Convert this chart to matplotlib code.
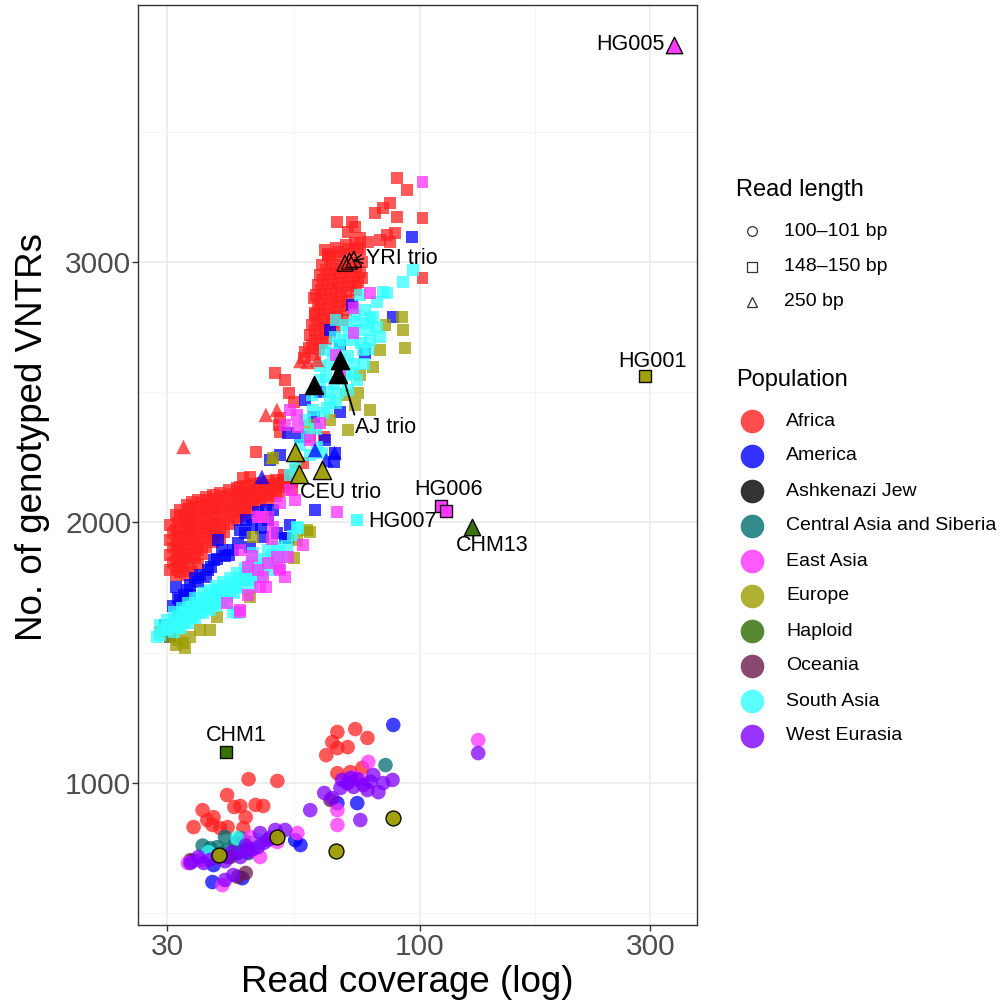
import matplotlib
matplotlib.use("Agg")
import matplotlib.pyplot as plt
from matplotlib.lines import Line2D

plt.rcParams['font.family'] = ['Liberation Sans', 'DejaVu Sans']

# population names / colours (legend order)
pop_names = ["Africa", "America", "Ashkenazi Jew", "Central Asia and Siberia", "East Asia",
             "Europe", "Haploid", "Oceania", "South Asia", "West Eurasia"]
pop_colors = ["#FF2020", "#0000FF", "#000000", "#006E6E", "#FF30FF",
              "#9C9C00", "#2D6A00", "#6B1A4B", "#33FFFF", "#8000FF"]
col = dict(zip(pop_names, pop_colors))

read_len_labels = ["100\u2013101 bp", "148\u2013150 bp", "250 bp"]

# ---------------- 148-150 bp samples (squares): (coverage, no. of VNTRs)
africa_sq = [
    (30.4, 1990), (30.4, 1933), (30.4, 1875), (30.4, 1818),
    (31.2, 2029), (31.2, 1971), (31.2, 1914), (31.2, 1856), (31.2, 1798),
    (31.9, 2048), (31.9, 2002), (31.9, 1952), (31.9, 1902), (31.9, 1856), (31.9, 1810),
    (32.9, 2067), (32.9, 2017), (32.9, 1971), (32.9, 1914), (32.9, 1864), (32.9, 1800),
    (33.8, 2079), (33.8, 2029), (33.8, 1979), (33.8, 1933), (33.8, 1875), (33.8, 1815),
    (34.8, 2086), (34.8, 2040), (34.8, 1990), (34.8, 1941), (34.8, 1894), (34.8, 1840),
    (36.0, 2098), (36.0, 2056), (36.0, 2010), (36.0, 1960), (36.0, 1905),
    (37.3, 2106), (37.3, 2063), (37.3, 2017), (37.3, 1971), (37.3, 1925),
    (38.6, 2113), (38.6, 2071), (38.6, 2029), (38.6, 1983), (38.6, 1941),
    (40.2, 2125), (40.2, 2086), (40.2, 2040), (40.2, 1994),
    (41.8, 2133), (41.8, 2094), (41.8, 2048), (41.8, 2010),
    (43.4, 2140), (43.4, 2102), (43.4, 2063), (43.4, 2025),
    (45.1, 2148), (45.1, 2110), (45.1, 2071),
    (46.7, 2152), (46.7, 2117), (46.7, 2079),
    (48.5, 2159), (48.5, 2125), (48.5, 2086),
    (50.3, 2163), (50.3, 2133), (50.3, 2102),
    (52.1, 2163), (52.1, 2136), (54.4, 2156), (54.4, 2125),
    (30.8, 1960), (30.8, 1904), (30.8, 1846),
    (31.6, 2000), (31.6, 1943), (31.6, 1885), (31.6, 1827),
    (32.4, 2025), (32.4, 1977), (32.4, 1927), (32.4, 1879), (32.4, 1833),
    (33.3, 2050), (33.3, 2000), (33.3, 1952), (33.3, 1900), (33.3, 1845),
    (34.3, 2060), (34.3, 2010), (34.3, 1960), (34.3, 1915), (34.3, 1862),
    (35.4, 2075), (35.4, 2025), (35.4, 1975), (35.4, 1925), (35.4, 1878),
    (36.6, 2085), (36.6, 2040), (36.6, 1990), (36.6, 1943),
    (37.9, 2090), (37.9, 2050), (37.9, 2000), (37.9, 1955),
    (39.4, 2100), (39.4, 2055), (39.4, 2010), (39.4, 1965),
    (41.0, 2110), (41.0, 2065), (41.0, 2020),
    (42.6, 2118), (42.6, 2080), (42.6, 2040),
    (44.2, 2125), (44.2, 2090), (44.2, 2050),
    (45.9, 2135), (45.9, 2095), (47.6, 2140), (47.6, 2100),
    (49.4, 2145), (49.4, 2110), (51.2, 2150), (51.2, 2118), (53.2, 2148),
    # middle
    (50.2, 2574), (52.6, 2547), (53.6, 2497), (54.8, 2463), (51.4, 2401), (51.0, 2374),
    (51.4, 2348), (45.7, 2271), (44.6, 2175), (43.1, 2171), (42.5, 2136), (52.3, 2182),
    (57.4, 2228), (59.3, 2328), (63.4, 2328),
    # upper dense group
    (63.7, 3046), (66.9, 3054), (70.2, 3065), (73.5, 3073),
    (65.3, 3015), (68.5, 3023), (71.8, 3031), (75.3, 3046),
    (62.8, 2989), (65.9, 2989), (69.2, 2989), (72.5, 2996), (76.0, 3000),
    (62.2, 2950), (65.3, 2954), (68.5, 2958), (71.8, 2962), (75.3, 2962),
    (61.6, 2912), (64.6, 2916), (67.8, 2920), (71.2, 2923), (74.6, 2923),
    (61.0, 2873), (64.0, 2877), (67.2, 2881), (70.5, 2885), (73.9, 2893),
    (61.6, 2835), (64.6, 2839), (67.8, 2847), (71.2, 2854),
    (60.7, 2797), (63.7, 2800), (66.9, 2808), (70.2, 2816),
    (59.9, 2758), (62.8, 2762), (65.9, 2770), (69.2, 2777),
    (59.3, 2720), (62.2, 2724), (65.3, 2731),
    (59.9, 2681), (62.8, 2689), (57.9, 2655), (60.7, 2643),
    (64.4, 3030), (67.6, 3038), (70.9, 3048), (74.4, 3055),
    (64.0, 2970), (67.2, 2972), (70.4, 2975), (73.6, 2980),
    (62.9, 2930), (66.1, 2935), (69.5, 2940), (73.0, 2942),
    (62.5, 2893), (65.6, 2897), (68.8, 2902), (72.2, 2908),
    (62.3, 2855), (65.4, 2858), (68.7, 2865),
    (62.2, 2817), (65.3, 2822), (68.5, 2830),
    (61.3, 2778), (64.4, 2782), (67.5, 2790),
    (60.7, 2740), (63.7, 2745), (66.9, 2752),
    (60.6, 2700), (63.9, 2706), (58.9, 2670), (61.8, 2665), (57.5, 2630),
    # upper sparse
    (89.8, 3323), (94.2, 3277), (86.9, 3227), (84.0, 3208), (80.9, 3188), (89.8, 3173),
    (101.3, 3169), (67.5, 3154), (72.5, 3154), (73.5, 3134), (70.9, 3115), (75.3, 3092),
    (78.2, 3077), (82.8, 3085), (85.6, 3104), (89.0, 3111), (86.9, 3077), (101.3, 2939),
    (76.0, 2939), (64.6, 3027), (60.4, 2862), (60.7, 2804),
]

america_sq = [
    (31.2, 1752), (31.9, 1703), (32.9, 1741), (36.5, 1818), (37.4, 1856), (39.0, 1894),
    (41.1, 1894), (42.5, 1971), (44.6, 1906), (46.2, 2040), (47.4, 1944), (48.5, 2010),
    (52.6, 1941), (49.7, 2048), (31.5, 1637), (30.4, 1560), (60.7, 2048), (53.3, 1941),
    (48.0, 2048), (34.3, 1787), (35.1, 1798), (40.2, 1875), (38.2, 1933), (33.5, 1722),
    (29.7, 1607), (43.6, 2010), (53.9, 1990),
    (30.8, 1680), (31.5, 1710), (32.5, 1720), (33.5, 1760), (34.8, 1770), (36.0, 1790),
    (37.0, 1830), (38.0, 1860), (39.5, 1870), (42.0, 1920), (43.5, 1960), (45.0, 1990),
    (47.0, 1980), (50.5, 1960),
    (96.5, 3096), (87.8, 2789), (72.5, 2835), (77.1, 2651), (68.5, 2424), (60.4, 2405),
    (53.3, 2344), (56.6, 2328), (66.6, 2267), (66.3, 2232), (65.3, 2739), (68.5, 2681),
    (62.2, 2501), (63.7, 2317), (57.9, 2470), (51.4, 2259), (49.0, 2240),
]

europe_sq = [
    (30.0, 1599), (30.4, 1560), (31.5, 1549), (32.3, 1537), (33.5, 1560), (38.1, 1637),
    (36.8, 1587), (43.1, 1779), (44.6, 1714), (54.8, 1864), (58.5, 1971), (55.8, 1933),
    (47.4, 2021), (45.2, 1944), (59.3, 1964), (32.6, 1518), (31.2, 1530), (29.0, 1580),
    (35.1, 1587),
    (92.0, 2789), (92.4, 2739), (82.8, 2662), (93.3, 2670), (80.1, 2597), (75.3, 2566),
    (74.6, 2497), (79.0, 2432), (70.9, 2355), (49.7, 2248), (70.2, 2489), (65.3, 2394),
    (84.9, 2758), (73.5, 2451), (55.5, 2202), (59.3, 2374),
]

south_asia_sq = [
    (29.0, 1607), (29.0, 1568), (30.0, 1626), (30.0, 1587),
    (31.0, 1656), (31.0, 1618), (31.0, 1580), (32.1, 1672), (32.1, 1633), (32.1, 1595),
    (33.1, 1691), (33.1, 1653), (33.1, 1614), (34.3, 1710), (34.3, 1672), (34.3, 1633),
    (35.5, 1729), (35.5, 1691), (35.5, 1653), (36.7, 1741), (36.7, 1703), (36.7, 1664),
    (37.9, 1756), (37.9, 1718), (37.9, 1679), (39.2, 1772), (39.2, 1733), (39.2, 1695),
    (40.5, 1787), (40.5, 1741), (41.9, 1806), (41.9, 1760), (43.4, 1825), (43.4, 1779),
    (44.8, 1837), (44.8, 1798),
    (29.5, 1590), (30.5, 1605), (31.5, 1640), (31.5, 1600), (32.6, 1655), (32.6, 1615),
    (33.7, 1672), (33.7, 1635), (34.9, 1690), (34.9, 1652), (36.1, 1710), (36.1, 1672),
    (37.3, 1725), (37.3, 1688), (38.5, 1740), (38.5, 1700), (39.8, 1755), (39.8, 1718),
    (41.2, 1770), (41.2, 1730), (42.6, 1790), (42.6, 1750), (44.1, 1808), (45.5, 1820),
    (46.5, 1840), (47.5, 1860), (50.0, 1850), (51.0, 1890), (53.0, 1910), (54.5, 1950),
    (47.0, 1800), (45.0, 1760),
    (55.8, 1983), (48.5, 1894), (50.7, 1906), (49.0, 1818), (44.6, 1779), (41.9, 1653),
    (28.6, 1560), (56.0, 1979), (52.0, 1868), (49.5, 1875), (45.2, 1883), (41.1, 1656),
    (96.9, 2969), (92.4, 2923), (85.6, 2881), (81.7, 2847), (84.0, 2885), (81.7, 2751),
    (77.9, 2766), (74.2, 2739), (82.8, 2712), (72.9, 2701), (76.4, 2662), (69.6, 2701),
    (66.6, 2712), (72.9, 2574), (70.9, 2509), (67.8, 2497), (74.2, 2547), (64.3, 2440),
    (61.3, 2290), (62.8, 2267), (68.5, 2624), (65.3, 2605), (70.2, 2758), (66.9, 2777),
    (73.5, 2797), (77.1, 2816), (63.7, 2662), (62.2, 2547), (59.9, 2489), (57.9, 2394),
    (56.6, 2298), (59.3, 2259), (55.2, 2221), (53.9, 2182), (65.3, 2470), (70.2, 2566),
    (79.0, 2701), (75.3, 2873), (79.0, 2785),
    (66.0, 2650), (68.0, 2680), (71.0, 2640), (73.0, 2610), (75.5, 2690), (78.5, 2740),
    (80.0, 2790), (71.5, 2730), (74.0, 2770), (69.0, 2550), (66.5, 2530), (64.0, 2560),
    (67.0, 2460), (63.0, 2420), (61.0, 2360), (60.0, 2430), (58.5, 2340), (64.5, 2500),
    (62.0, 2600), (76.5, 2610), (78.0, 2665),
]

east_asia_sq = [
    (42.5, 1894), (44.0, 1829), (46.2, 1818), (48.5, 1845), (50.7, 1868), (46.7, 1752),
    (42.5, 1664), (39.9, 1691), (46.7, 2021), (49.7, 1983), (51.4, 2075), (53.3, 1868),
    (51.4, 1818), (47.4, 1791), (67.5, 2040), (57.4, 1914), (51.0, 1825), (48.0, 1752),
    (46.2, 2021), (48.5, 2021), (42.5, 1656), (53.9, 2125), (55.2, 2086),
    (45.0, 1870), (49.5, 1935), (52.5, 1790), (44.0, 1720),
    (101.3, 3307), (79.0, 2881), (72.9, 2824), (72.9, 2728), (55.8, 2413), (62.2, 2382),
    (56.0, 2367), (52.6, 2374), (53.9, 2432), (66.9, 2643), (59.3, 2317), (68.5, 2578),
]

# ---------------- 250 bp samples (triangles)
africa_tri = [(32.4, 2290), (56.6, 2620), (58.6, 2616), (61.3, 2624), (48.0, 2413), (50.6, 2432)]
america_tri = [(60.7, 2278), (66.6, 2267), (47.1, 2175), (64.0, 2240)]
europe_tri = [(49.5, 2251)]

# ---------------- 100-101 bp samples (circles)
africa_circ = [
    (44.2, 1015), (50.7, 1008), (39.9, 954), (35.5, 896), (41.3, 908), (42.5, 912),
    (45.7, 916), (47.4, 912), (37.4, 869), (36.3, 858), (43.6, 869), (34.0, 831),
    (38.6, 827), (40.0, 831), (43.1, 827), (37.2, 839),
    (67.5, 1196), (73.5, 1207), (77.9, 1173), (65.9, 1157), (67.5, 1134), (70.9, 1138),
    (64.0, 1107), (67.5, 1038), (71.8, 1042), (76.0, 1058),
]
west_eurasia_circ = [
    (33.5, 693), (34.8, 716), (35.7, 693), (41.1, 647), (44.0, 735), (46.2, 754),
    (48.5, 781), (52.6, 820), (46.7, 808), (50.2, 820), (42.5, 716), (38.1, 720),
    (39.5, 700), (36.8, 705), (43.6, 760), (49.0, 790), (39.5, 628), (45.0, 745),
    (47.5, 770), (40.8, 735),
    (80.1, 1031), (87.8, 1012), (72.9, 985), (68.5, 981), (63.4, 962), (59.3, 896),
    (75.3, 858), (65.9, 942), (77.9, 973), (82.1, 965), (76.4, 992), (70.9, 1000),
    (74.2, 1015), (84.0, 1000), (69.0, 1012), (79.0, 1005), (72.0, 1020), (132.1, 1115),
]
central_asia_circ = [(36.8, 750), (39.5, 793), (38.1, 754), (41.5, 770), (44.2, 731),
                     (42.5, 789), (40.0, 743), (84.9, 1069), (35.5, 760)]
america_circ = [(37.2, 620), (42.9, 635), (40.0, 716), (37.4, 685), (56.6, 762), (55.2, 781),
                (43.6, 774), (41.9, 731), (74.2, 923), (67.5, 923), (88.1, 1223), (33.8, 700)]
east_asia_circ = [(39.0, 608), (50.7, 774), (55.8, 808), (44.6, 793), (33.1, 693), (35.1, 704),
                  (46.7, 716), (78.2, 1081), (75.3, 1012), (70.9, 1000), (67.5, 896),
                  (67.5, 839), (72.9, 1023), (132.1, 1165)]
oceania_circ = [(43.6, 655), (33.5, 704), (45.2, 770), (40.5, 716), (65.3, 935), (42.0, 640)]
south_asia_circ = [(46.7, 770), (41.9, 789), (46.2, 781), (36.5, 735)]

# ---------------- highlighted samples (black outline)
europe_circ_hl = [(38.3, 724), (50.7, 793), (67.2, 739), (88.1, 866)]
aj_trio = [(60.5, 2528), (68.5, 2624), (67.8, 2570)]
yri_trio = [(70.0, 2995), (71.5, 3003), (73.0, 3010)]
ceu_trio = [(55.2, 2271), (56.3, 2186), (62.8, 2201)]
hg005 = (336, 3833)
hg001 = (293, 2562)
hg006 = [(110.8, 2063), (113.4, 2044)]
hg007 = (74.2, 2010)
chm13 = (128.4, 1983)
chm1 = (39.7, 1119)


def draw(ax, pts, marker, color, size, alpha=0.75, edge=None, lw=0.0, z=2):
    xs = [p[0] for p in pts]
    ys = [p[1] for p in pts]
    ax.scatter(xs, ys, marker=marker, s=size, c=color, alpha=alpha,
               edgecolors=edge if edge else 'none', linewidths=lw, zorder=z)


fig = plt.figure(figsize=(10.08, 10.08), dpi=100)
ax = fig.add_axes([0.137, 0.0823, 0.5545, 0.9127])

SQ, CI, TR = 74, 110, 110

# squares
draw(ax, africa_sq, 's', col["Africa"], SQ)
draw(ax, america_sq, 's', col["America"], SQ)
draw(ax, europe_sq, 's', col["Europe"], SQ)
draw(ax, south_asia_sq, 's', col["South Asia"], SQ)
draw(ax, east_asia_sq, 's', col["East Asia"], SQ)
# triangles
draw(ax, africa_tri, '^', col["Africa"], TR)
draw(ax, america_tri, '^', col["America"], TR)
draw(ax, europe_tri, '^', col["Europe"], TR)
# circles
draw(ax, africa_circ, 'o', col["Africa"], CI)
draw(ax, america_circ, 'o', col["America"], CI)
draw(ax, central_asia_circ, 'o', col["Central Asia and Siberia"], CI)
draw(ax, oceania_circ, 'o', col["Oceania"], CI)
draw(ax, south_asia_circ, 'o', col["South Asia"], CI)
draw(ax, east_asia_circ, 'o', col["East Asia"], CI)
draw(ax, west_eurasia_circ, 'o', col["West Eurasia"], CI)

# highlighted
draw(ax, europe_circ_hl, 'o', col["Europe"], 115, alpha=0.95, edge='black', lw=1.0, z=4)
draw(ax, aj_trio, '^', col["Ashkenazi Jew"], 170, alpha=1.0, edge='black', lw=1.0, z=4)
draw(ax, ceu_trio, '^', col["Europe"], 170, alpha=0.95, edge='black', lw=1.0, z=4)
ax.scatter([p[0] for p in yri_trio], [p[1] for p in yri_trio], marker='^', s=130,
           facecolors='none', edgecolors='black', linewidths=0.9, zorder=4)
draw(ax, [hg005], '^', col["East Asia"], 140, alpha=0.95, edge='black', lw=1.0, z=4)
draw(ax, [chm13], '^', col["Haploid"], 140, alpha=0.95, edge='black', lw=1.0, z=4)
draw(ax, [hg001], 's', col["Europe"], 76, alpha=0.95, edge='black', lw=1.0, z=4)
draw(ax, [chm1], 's', col["Haploid"], 76, alpha=0.95, edge='black', lw=1.0, z=4)
draw(ax, hg006, 's', col["East Asia"], 76, alpha=0.95, edge='black', lw=1.0, z=4)
draw(ax, [hg007], 's', col["South Asia"], SQ, alpha=0.85, z=4)

# labels
lab = dict(fontsize=15.5, color='black', zorder=5)
ax.text(322, 3833, "HG005", ha='right', va='center', **lab)
ax.text(303, 2616, "HG001", ha='center', va='center', **lab)
ax.text(114.5, 2125, "HG006", ha='center', va='center', **lab)
ax.text(78.2, 2002, "HG007", ha='left', va='center', **lab)
ax.text(141.3, 1910, "CHM13", ha='center', va='center', **lab)
ax.text(41.7, 1184, "CHM1", ha='center', va='center', **lab)
ax.text(56.6, 2117, "CEU trio", ha='left', va='center', **lab)
ax.annotate("YRI trio", xy=(72.5, 3003), xytext=(77.5, 3015), ha='left', va='center',
            arrowprops=dict(arrowstyle='->', color='black', lw=1.0, shrinkA=0, shrinkB=0,
                            relpos=(0, 0.5)), **lab)
ax.annotate("AJ trio", xy=(68.3, 2600), xytext=(73.5, 2363), ha='left', va='center',
            arrowprops=dict(arrowstyle='-', color='black', lw=1.3, shrinkA=0, shrinkB=0,
                            relpos=(0, 1)), **lab)

# axes
ax.set_xscale('log')
ax.set_xlim(26.1, 375)
ax.set_ylim(455, 3986)
ax.set_xticks([30, 100, 300])
ax.set_xticklabels(["30", "100", "300"])
ax.set_xticks([54.77, 173.2], minor=True)
ax.set_yticks([1000, 2000, 3000])
ax.set_yticks([500, 1500, 2500, 3500], minor=True)
ax.tick_params(which='major', labelsize=21.5, labelcolor='#4D4D4D', color='#333333',
               length=4, width=1, pad=2)
ax.tick_params(axis='y', which='major', pad=1)
ax.tick_params(which='minor', length=0)
ax.grid(True, which='major', color='#EBEBEB', lw=1.2, zorder=0)
ax.grid(True, which='minor', color='#F4F4F4', lw=0.7, zorder=0)
ax.set_axisbelow(True)
for s in ax.spines.values():
    s.set_color('#333333')
    s.set_linewidth(1.0)
ax.set_xlabel("Read coverage (log)", fontsize=26.5)
ax.set_ylabel("No. of genotyped VNTRs", fontsize=26.5)
ax.xaxis.set_label_coords(0.481, -0.043)
ax.yaxis.set_label_coords(-0.157, 0.53)


# legends drawn in figure coordinates
def fxy(px, py):
    return px / 1008, 1 - py / 1008


fig.text(*fxy(736, 190), "Read length", fontsize=17, va='center', ha='left')
for i, (m, t) in enumerate(zip(['o', 's', '^'], read_len_labels)):
    y = 231 + 35.5 * i
    fig.add_artist(Line2D([fxy(752, y)[0]], [fxy(752, y)[1]], marker=m, markersize=7,
                          mfc='none', mec='#333333', mew=0.9, ls='none',
                          transform=fig.transFigure))
    fig.text(*fxy(784, y), t, fontsize=14, va='center', ha='left')

fig.text(*fxy(736, 380), "Population", fontsize=17, va='center', ha='left')
for i, (name, c) in enumerate(zip(pop_names, pop_colors)):
    y = 421 + 35 * i
    fig.add_artist(Line2D([fxy(752, y)[0]], [fxy(752, y)[1]], marker='o', markersize=17,
                          mfc=c, mec='none', alpha=0.8, ls='none',
                          transform=fig.transFigure))
    fig.text(*fxy(786, y), name, fontsize=14, va='center', ha='left')

fig.savefig("out.png", dpi=100, facecolor='white')
